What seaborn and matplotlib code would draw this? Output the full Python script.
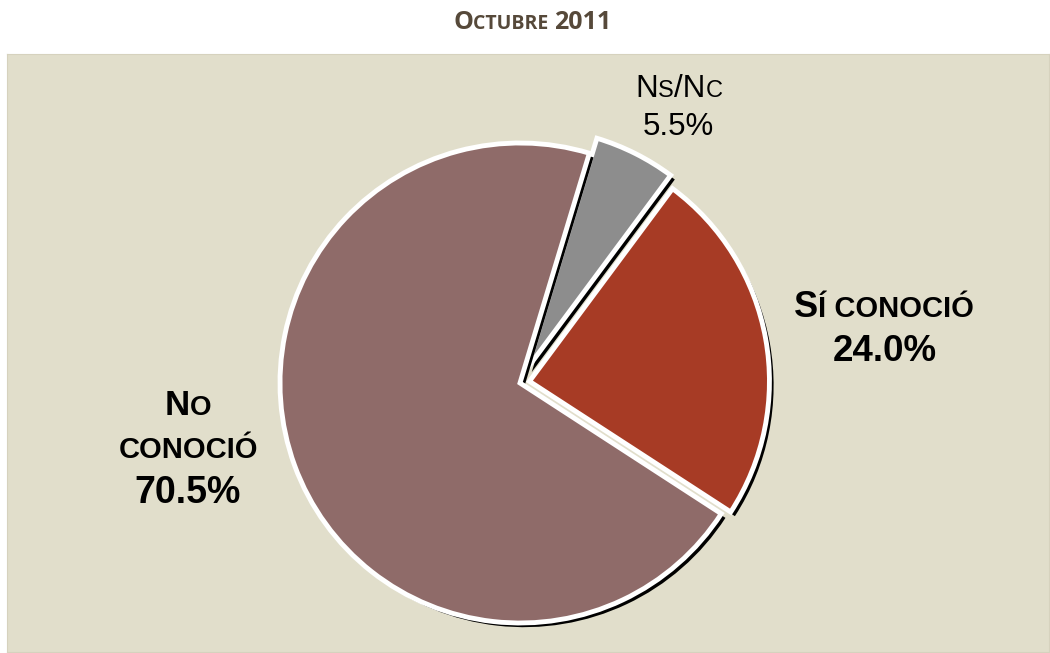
import seaborn as sns
import matplotlib.pyplot as plt
from matplotlib.transforms import IdentityTransform
import matplotlib.patheffects as pe

labels = ['Sí conoció', 'Ns/Nc', 'No conoció']
values = [24.0, 5.5, 70.5]
colors = ['#A73B25', '#8D8D8D', '#8F6B69']
explode = [0.04, 0.07, 0.0]

sns.set_style('white')
plt.rcParams['font.family'] = ['Liberation Sans', 'DejaVu Sans']

W, H = 1050, 653
fig = plt.figure(figsize=(W / 100, H / 100), dpi=100)
fig.patch.set_facecolor('white')

# panel in pixels: x 7..1049, y(top) 54..652
px0, px1, py0, py1 = 7, 1049, 54, 652
ax = fig.add_axes([px0 / W, (H - py1) / H, (px1 - px0) / W, (py1 - py0) / H])

shadow = [pe.SimplePatchShadow(offset=(3, -3), shadow_rgbFace='black', alpha=1.0), pe.Normal()]
ax.pie(values, colors=colors, startangle=-33, counterclock=True, explode=explode,
       wedgeprops=dict(edgecolor='white', linewidth=3.5, path_effects=shadow))

# pie centre at (520, 383) px, radius 240 px
scale = 240.0
cx, cy = 520 - px0, (H - 383) - (H - py1)
aw, ah = px1 - px0, py1 - py0
ax.set_aspect('auto')
ax.set_xlim(-cx / scale, (aw - cx) / scale)
ax.set_ylim(-cy / scale, (ah - cy) / scale)
ax.set_frame_on(True)
ax.set_facecolor('#E1DECB')
for s in ax.spines.values():
    s.set_color('#D6D2BE')
    s.set_linewidth(0.8)

renderer = fig.canvas.get_renderer()


def caps_text(xc, ytop, parts, color='black', weight='bold', family=None):
    # parts: (text, size) pieces drawn side by side, centred on xc, baseline at ytop
    objs = []
    total = 0
    for s, size in parts:
        kw = dict(fontsize=size, color=color, fontweight=weight,
                  transform=IdentityTransform(), ha='left', va='baseline')
        if family:
            kw['family'] = family
        t = fig.text(0, 0, s, **kw)
        w = t.get_window_extent(renderer).width
        objs.append((t, w))
        total += w
    x = xc - total / 2
    for t, w in objs:
        t.set_position((x, H - ytop))
        x += w


# title
caps_text(532, 29, [('O', 18), ('CTUBRE ', 14), ('2011', 18)],
          color='#56493A', family=['Open Sans', 'DejaVu Sans'])

# slice labels
caps_text(188, 415, [('N', 25), ('O', 20)])
caps_text(188, 458, [('CONOCIÓ', 21)])
caps_text(188, 503, [('70.5%', 27)])

caps_text(884, 317, [('S', 26), ('Í CONOCIÓ', 21)])
caps_text(885, 361, [('24.0%', 26.5)])

caps_text(679, 97, [('N', 22.5), ('S', 17), ('/N', 22.5), ('C', 17)], weight='normal')
caps_text(678, 135, [('5.5%', 22.5)], weight='normal')

fig.savefig('out.png', dpi=100)
